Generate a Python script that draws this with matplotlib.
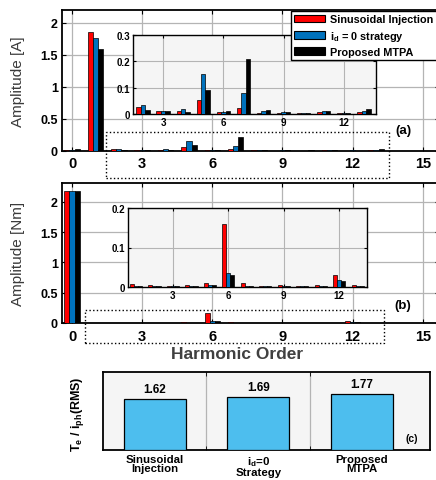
import numpy as np
import matplotlib
matplotlib.use('Agg')
import matplotlib.pyplot as plt
from matplotlib.patches import Rectangle, Patch
from matplotlib.ticker import FuncFormatter

plt.rcParams['font.family'] = ['Liberation Sans', 'DejaVu Sans']
plt.rcParams['font.weight'] = 'bold'
plt.rcParams['mathtext.fontset'] = 'custom'
plt.rcParams['mathtext.rm'] = 'Liberation Sans:bold'
plt.rcParams['mathtext.bf'] = 'Liberation Sans:bold'
plt.rcParams['mathtext.default'] = 'bf'

# harmonic orders 0..15
harmonics = np.arange(16)
series_names = ['Sinusoidal Injection', 'i$_d$ = 0 strategy', 'Proposed MTPA']
series_colors = ['#ff0000', '#0072bd', '#000000']

# (a) phase current harmonics [A]
current_sin = [0.010, 1.85, 0.025, 0.013, 0.012, 0.055, 0.006, 0.022, 0.004, 0.003,
               0.003, 0.008, 0.003, 0.007, 0.003, 0.003]
current_id0 = [0.005, 1.77, 0.034, 0.013, 0.020, 0.151, 0.006, 0.080, 0.010, 0.007,
               0.003, 0.012, 0.005, 0.012, 0.003, 0.003]
current_mtpa = [0.020, 1.59, 0.015, 0.010, 0.007, 0.092, 0.013, 0.209, 0.014, 0.007,
                0.005, 0.012, 0.003, 0.020, 0.003, 0.003]

# (b) torque harmonics [Nm]
torque_sin = [2.17, 0.007, 0.005, 0.003, 0.004, 0.010, 0.160, 0.009, 0.003, 0.006,
              0.003, 0.006, 0.031, 0.005, 0.003, 0.003]
torque_id0 = [2.18, 0.002, 0.003, 0.002, 0.002, 0.005, 0.036, 0.002, 0.003, 0.003,
              0.003, 0.003, 0.018, 0.002, 0.002, 0.002]
torque_mtpa = [2.18, 0.002, 0.003, 0.002, 0.002, 0.004, 0.031, 0.002, 0.002, 0.002,
               0.003, 0.003, 0.015, 0.002, 0.002, 0.002]

# (c) torque per ampere
strategies = ['Sinusoidal\nInjection', 'i$_d$=0\nStrategy', 'Proposed\nMTPA']
torque_per_amp = [1.62, 1.69, 1.77]

W, H = 436, 481
fig = plt.figure(figsize=(W / 100, H / 100), dpi=100)


def fmt(v, pos):
    return '%g' % v


def draw_bars(ax, series, width=0.22):
    for k, (vals, col) in enumerate(zip(series, series_colors)):
        ax.bar(harmonics + (k - 1) * width, vals, width, color=col,
               edgecolor='black', linewidth=0.5, zorder=3)


def style_main(ax, ymax):
    ax.set_xlim(-0.43, 15.7)
    ax.set_ylim(0, ymax)
    ax.set_xticks([0, 3, 6, 9, 12, 15])
    ax.set_yticks([0, 0.5, 1, 1.5, 2])
    ax.yaxis.set_major_formatter(FuncFormatter(fmt))
    ax.grid(True, color='#b4b4b4', linewidth=0.9, zorder=0)
    ax.tick_params(direction='in', top=True, right=True, length=3, width=0.8)
    ax.tick_params(axis='x', labelsize=10.5, pad=4)
    ax.tick_params(axis='y', labelsize=9, pad=3)
    for s in ax.spines.values():
        s.set_linewidth(1.3)


def style_inset(ax, xlim, ymax, yticks):
    ax.set_facecolor('#f5f5f5')
    ax.set_xlim(*xlim)
    ax.set_ylim(0, ymax)
    ax.set_xticks([3, 6, 9, 12])
    ax.set_yticks(yticks)
    ax.yaxis.set_major_formatter(FuncFormatter(fmt))
    ax.grid(True, color='#b4b4b4', linewidth=0.8, zorder=0)
    ax.tick_params(direction='in', top=True, right=True, length=2.5, width=0.8,
                   labelsize=7, pad=2)
    for s in ax.spines.values():
        s.set_linewidth(1.0)


# ---- (a) current
ax_a = fig.add_axes([62 / W, 1 - 151.7 / H, 0.865, 140.7 / H])
draw_bars(ax_a, [current_sin, current_id0, current_mtpa])
style_main(ax_a, 2.2)
ax_a.set_ylabel('Amplitude [A]', fontsize=11, fontweight='normal', color='#3a3a3a')
ax_a.yaxis.set_label_coords(-0.098, 0.5)
ax_a.add_patch(Rectangle((1.45, -0.43), 12.1, 0.73, fill=False, linestyle=':',
                         linewidth=1.0, edgecolor='black', clip_on=False, zorder=5))

ins_a = fig.add_axes([133 / W, 1 - 115 / H, 243 / W, 79 / H])
draw_bars(ins_a, [current_sin, current_id0, current_mtpa])
style_inset(ins_a, (1.5, 13.6), 0.3, [0, 0.1, 0.2, 0.3])

fig.text(403 / W, 1 - 131 / H, '(a)', fontsize=9.5, ha='center', va='center')

# ---- (b) torque
ax_b = fig.add_axes([62 / W, 1 - 324 / H, 0.865, 140 / H])
draw_bars(ax_b, [torque_sin, torque_id0, torque_mtpa])
style_main(ax_b, 2.31)
ax_b.set_ylabel('Amplitude [Nm]', fontsize=11, fontweight='normal', color='#3a3a3a')
ax_b.yaxis.set_label_coords(-0.098, 0.5)
ax_b.add_patch(Rectangle((0.56, -0.33), 12.77, 0.54, fill=False, linestyle=':',
                         linewidth=1.0, edgecolor='black', clip_on=False, zorder=5))

ins_b = fig.add_axes([128 / W, 1 - 288 / H, 239 / W, 79 / H])
draw_bars(ins_b, [torque_sin, torque_id0, torque_mtpa])
style_inset(ins_b, (0.57, 13.5), 0.2, [0, 0.1, 0.2])

fig.text(403 / W, 1 - 306 / H, '(b)', fontsize=9.5, ha='center', va='center')
fig.text(237 / W, 1 - 355 / H, 'Harmonic Order', fontsize=12.5, ha='center',
         va='center', color='#404040')

# legend on top of everything
handles = [Patch(facecolor=c, edgecolor='black', linewidth=0.8) for c in series_colors]
fig.legend(handles, series_names, loc='upper left', bbox_to_anchor=(291 / W, 1 - 12 / H),
           fontsize=7.8, frameon=True, fancybox=False, edgecolor='black',
           framealpha=1, borderpad=0.3, labelspacing=0.4, handlelength=2.8,
           handleheight=0.75, handletextpad=0.5, borderaxespad=0)

# ---- (c) torque per ampere
ax_c = fig.add_axes([103 / W, 1 - 451 / H, 327 / W, 78 / H])
ax_c.set_facecolor('#f5f5f5')
pos = np.arange(1, len(strategies) + 1)
ax_c.bar(pos, torque_per_amp, 0.6, color='#4dbeee', edgecolor='black',
         linewidth=0.9, zorder=3)
for x, v in zip(pos, torque_per_amp):
    ax_c.text(x, v + 0.12, '%.2f' % v, ha='center', va='bottom', fontsize=8.5)
ax_c.set_xlim(0.5, 3.66)
ax_c.set_ylim(0, 2.47)
ax_c.set_yticks([])
ax_c.set_xticks(pos)
ax_c.set_xticklabels(strategies, fontsize=8.2, linespacing=0.88)
ax_c.tick_params(axis='x', which='major', length=0, pad=3)
ax_c.set_xticks([1.5, 2.5], minor=True)
ax_c.tick_params(axis='x', which='minor', direction='in', top=True, length=3)
ax_c.grid(True, which='minor', axis='x', color='#b4b4b4', linewidth=0.9, zorder=0)
for s in ax_c.spines.values():
    s.set_linewidth(1.3)
ax_c.set_ylabel('T$_e$ / i$_{ph}$(RMS)', fontsize=9, fontweight='bold')
ax_c.yaxis.set_label_coords(-0.052, 0.47)
ax_c.text(0.945, 0.15, '(c)', transform=ax_c.transAxes, fontsize=7.5,
          ha='center', va='center')

fig.savefig('out.png', dpi=100)
